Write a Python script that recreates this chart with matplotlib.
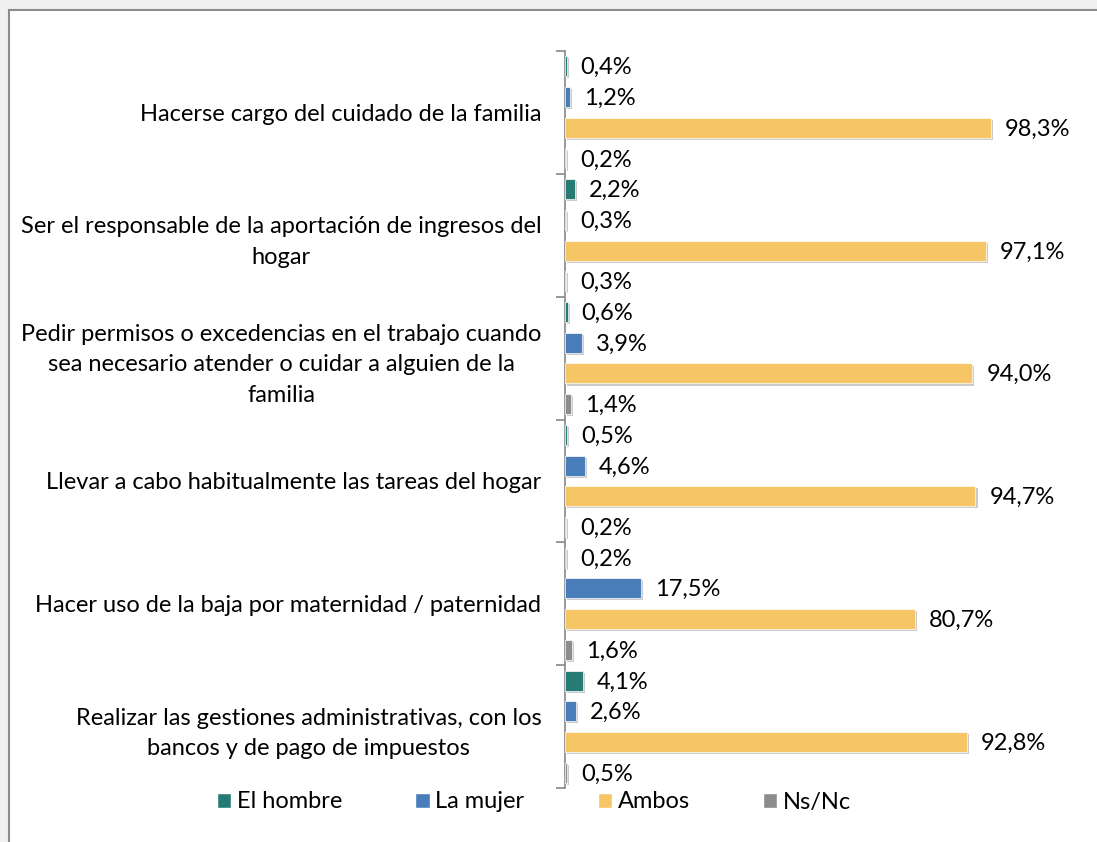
import matplotlib
matplotlib.use("Agg")
import matplotlib.pyplot as plt
import matplotlib.patheffects as pe
from matplotlib.patches import Rectangle, Patch

plt.rcParams['font.family'] = ['Lato', 'DejaVu Sans']

categories = [
    "Hacerse cargo del cuidado de la familia",
    "Ser el responsable de la aportación de ingresos del\nhogar",
    "Pedir permisos o excedencias en el trabajo cuando\nsea necesario atender o cuidar a alguien de la\nfamilia",
    "Llevar a cabo habitualmente las tareas del hogar",
    "Hacer uso de la baja por maternidad / paternidad",
    "Realizar las gestiones administrativas, con los\nbancos y de pago de impuestos",
]
series_names = ["El hombre", "La mujer", "Ambos", "Ns/Nc"]
el_hombre = [0.4, 2.2, 0.6, 0.5, 0.2, 4.1]
la_mujer = [1.2, 0.3, 3.9, 4.6, 17.5, 2.6]
ambos = [98.3, 97.1, 94.0, 94.7, 80.7, 92.8]
ns_nc = [0.2, 0.3, 1.4, 0.2, 1.6, 0.5]
colors = ["#267C74", "#4A7EBB", "#F6C566", "#8C8C8C"]

W, H = 1097, 842
fig = plt.figure(figsize=(W / 100, H / 100), dpi=100, facecolor="#F0F0F0")

# white panel with grey frame
fig.patches.append(Rectangle((8.5 / W, -0.1), 1.2, 1.1 - 9.5 / H, transform=fig.transFigure,
                             facecolor="white", edgecolor="#8C8C8C", linewidth=1.5, zorder=-5))

ax = fig.add_axes([565 / W, 1 - 788 / H, (4.334 * 110) / W, (788 - 51) / H])
ax.set_facecolor("none")

all_series = [el_hombre, la_mujer, ambos, ns_nc]
shadow = [pe.SimplePatchShadow(offset=(1.5, -1.5), shadow_rgbFace="#999999", alpha=0.5), pe.Normal()]
for s, (vals, col) in enumerate(zip(all_series, colors)):
    ys = [g * 4 + s for g in range(len(categories))]
    bars = ax.barh(ys, vals, height=0.65, color=col, edgecolor="white", linewidth=0.5, zorder=3)
    for b in bars:
        b.set_path_effects(shadow)
    for y, v in zip(ys, vals):
        ax.annotate(f"{v:.1f}".replace(".", ",") + "%", (v, y), xytext=(10, -1),
                    textcoords="offset points", va="center", ha="left", fontsize=17, color="black")

n = len(categories)
ax.set_xlim(0, 110)
ax.set_ylim(n * 4 - 0.5, -0.5)
ax.set_xticks([])
ax.set_yticks([g * 4 + 1.5 for g in range(n)])
ax.set_yticklabels(categories, fontsize=17, color="black")
for lbl in ax.get_yticklabels():
    lbl.set_multialignment("center")
    lbl.set_linespacing(1.55)
ax.set_yticks([g * 4 - 0.5 for g in range(n + 1)], minor=True)
ax.tick_params(axis="y", which="major", length=0, pad=17)
ax.tick_params(axis="y", which="minor", length=6.5, color="#888888", width=1.2)
for side in ["top", "right", "bottom"]:
    ax.spines[side].set_visible(False)
ax.spines["left"].set_color("#888888")
ax.spines["left"].set_linewidth(1.2)

handles = [Patch(facecolor=c, edgecolor="white") for c in colors]
fig.legend(handles, series_names, loc="center", bbox_to_anchor=(534 / W, 1 - 802 / H), ncol=4,
           frameon=False, fontsize=17, handlelength=0.6, handleheight=0.6, handletextpad=0.25,
           columnspacing=3.1)

fig.savefig("out.png", dpi=100, facecolor=fig.get_facecolor())
